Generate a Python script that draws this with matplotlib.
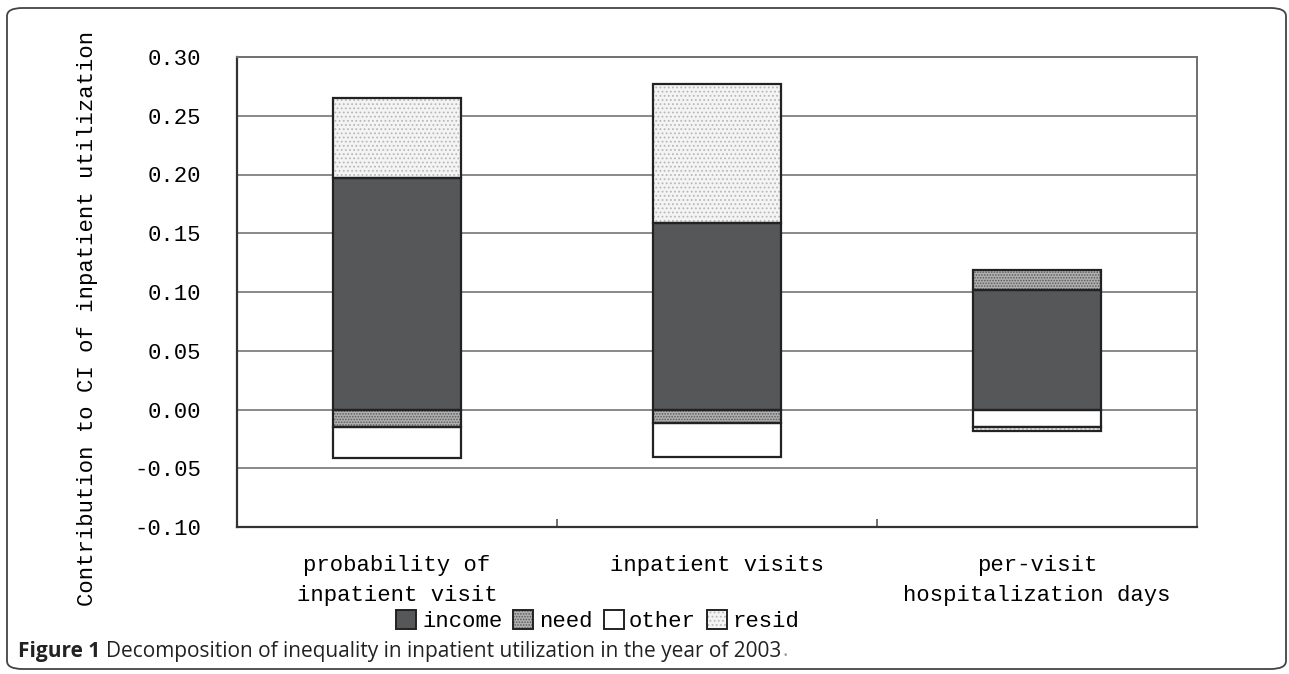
import numpy as np
import matplotlib.pyplot as plt
from matplotlib.patches import Patch, FancyBboxPatch
from matplotlib.legend_handler import HandlerTuple

categories = ["probability of\ninpatient visit", "inpatient visits", "per-visit\nhospitalization days"]
income = [0.1966, 0.1583, 0.1019]
need = [-0.0145, -0.0119, 0.0164]
other = [-0.0272, -0.0281, -0.0145]
resid = [0.0689, 0.1183, -0.0042]

yticks = [0.30, 0.25, 0.20, 0.15, 0.10, 0.05, 0.00, -0.05, -0.10]

series = [
    ("income", income, dict(fc="#555759", hatch=None, hc="#555759")),
    ("need", need, dict(fc="#b0b0b0", hatch="......", hc="#5a5a5a")),
    ("other", other, dict(fc="white", hatch=None, hc="white")),
    ("resid", resid, dict(fc="#f4f4f4", hatch="....", hc="#b8b8b8")),
]

# monospaced font keeps the text widths close to the original
plt.rcParams["font.family"] = ["Liberation Mono", "DejaVu Sans Mono"]
plt.rcParams["hatch.linewidth"] = 0.8

fig = plt.figure(figsize=(12.89, 6.74), dpi=100)
ax = fig.add_axes([237 / 1289, 1 - 527 / 674, 960 / 1289, 470 / 674])

x = np.arange(len(categories))
width = 0.4
pos_base = np.zeros(len(categories))
neg_base = np.zeros(len(categories))
handles = []
for name, vals, st in series:
    vals = np.array(vals)
    bottoms = np.where(vals >= 0, pos_base, neg_base)
    ax.bar(x, vals, width, bottom=bottoms, color=st["fc"], hatch=st["hatch"],
           edgecolor=st["hc"], linewidth=0, zorder=3)
    ax.bar(x, vals, width, bottom=bottoms, fill=False, edgecolor="#222222",
           linewidth=1.6, zorder=4)
    pos_base = pos_base + np.where(vals >= 0, vals, 0)
    neg_base = neg_base + np.where(vals < 0, vals, 0)
    h1 = Patch(facecolor=st["fc"], hatch=st["hatch"], edgecolor=st["hc"], linewidth=0)
    h2 = Patch(fill=False, edgecolor="#222222", linewidth=1.4)
    handles.append(((h1, h2), name))

ax.set_xlim(-0.5, 2.5)
ax.set_ylim(-0.10, 0.30)
ax.set_yticks(yticks)
ax.set_yticklabels([f"{v:.2f}" for v in yticks], fontsize=16)
ax.tick_params(axis="y", length=0, pad=26)
for v in yticks[1:-1]:
    ax.axhline(v, color="#808080", linewidth=1.3, zorder=1)

ax.set_xticks([0.5, 1.5])
ax.set_xticklabels([])
ax.set_xticks(x, minor=True)
ax.set_xticklabels(categories, minor=True, fontsize=16, linespacing=1.6)
ax.tick_params(axis="x", which="major", direction="in", length=6, width=1.2, color="#555555")
ax.tick_params(axis="x", which="minor", length=0, pad=20)

for side in ["left", "bottom"]:
    ax.spines[side].set_color("#333333")
    ax.spines[side].set_linewidth(1.6)
for side in ["top", "right"]:
    ax.spines[side].set_color("#707070")
    ax.spines[side].set_linewidth(1.4)

fig.text(88 / 1289, 1 - 318 / 674, "Contribution to CI of inpatient utilization",
         rotation=90, ha="center", va="center", fontsize=16)

leg = fig.legend([h for h, _ in handles], [n for _, n in handles],
                 loc="center", bbox_to_anchor=(598 / 1289, 1 - 621 / 674), ncol=4,
                 frameon=False, fontsize=16, handlelength=0.9, handleheight=0.9,
                 handletextpad=0.25, columnspacing=0.5,
                 handler_map={tuple: HandlerTuple(ndivide=1)})

# caption: bold label, then the plain text right after it
cap_y = 1 - 651 / 674
t1 = fig.text(18 / 1289, cap_y, "Figure 1", fontsize=15, fontweight="bold",
              family="Open Sans", va="center", color="#222222")
fig.canvas.draw()
bb = t1.get_window_extent()
t2 = fig.text((bb.x1 + 6) / 1289, cap_y,
              "Decomposition of inequality in inpatient utilization in the year of 2003",
              fontsize=15, family="Open Sans", va="center", color="#222222")
fig.canvas.draw()
bb2 = t2.get_window_extent()
fig.text((bb2.x1 + 1) / 1289, cap_y, ".", fontsize=15, family="Open Sans",
         va="center", color="#999999")

frame = FancyBboxPatch((7 / 1289, 5 / 674), 1279 / 1289, 661 / 674,
                       boxstyle="round,pad=0,rounding_size=0.012",
                       transform=fig.transFigure, fill=False,
                       edgecolor="#444444", linewidth=1.3)
fig.patches.append(frame)

fig.savefig("out.png", dpi=100)
